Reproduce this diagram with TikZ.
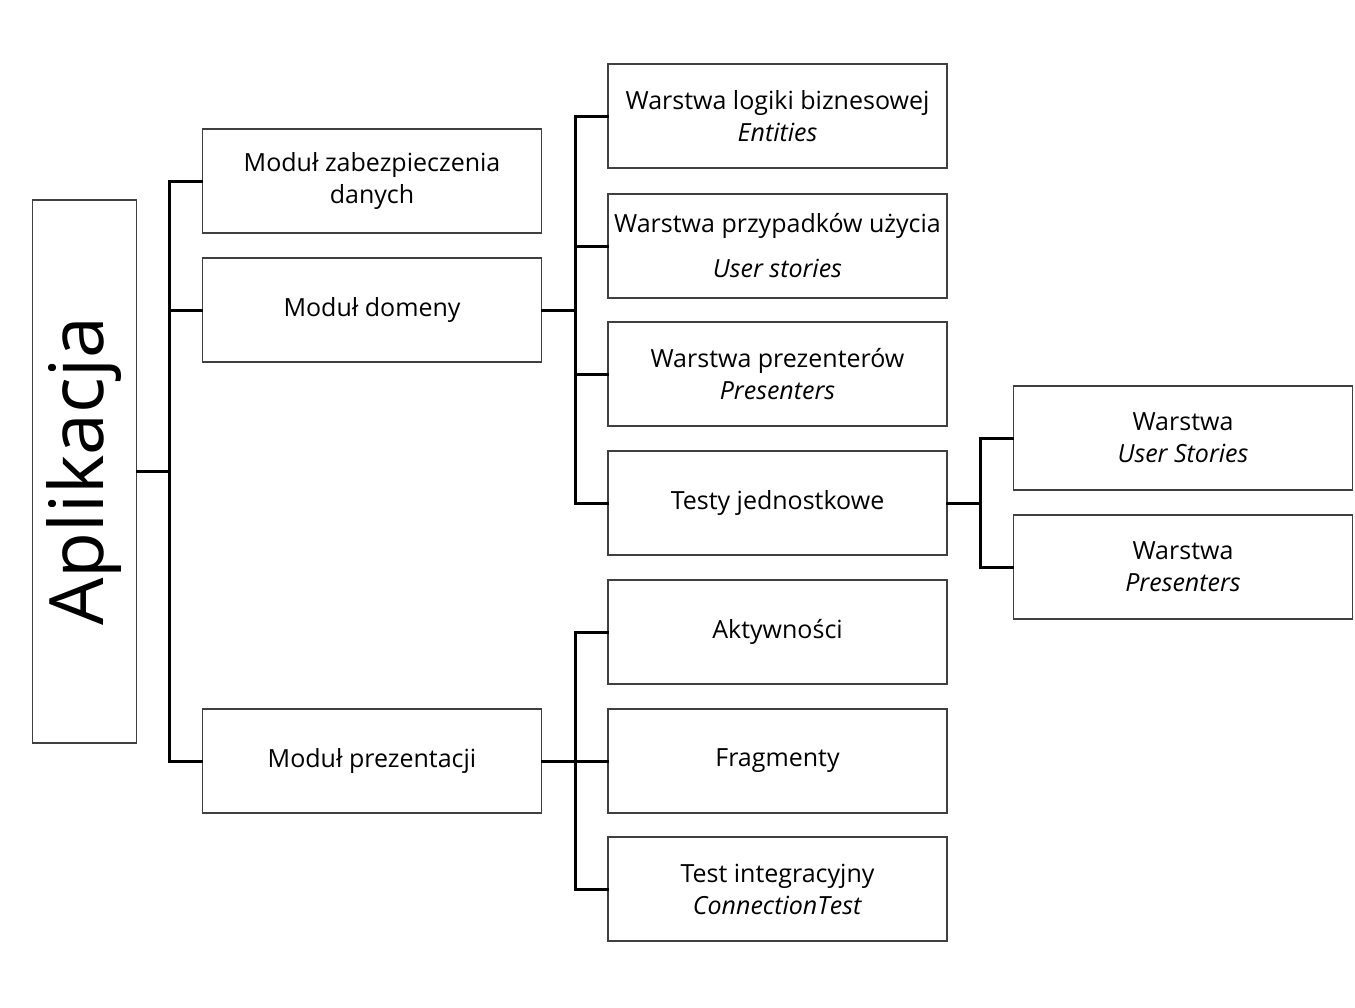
\documentclass[tikz,border=0pt]{standalone}
\usepackage{fontspec}
\setmainfont{Open Sans}
\begin{document}
\begin{tikzpicture}[x=1pt,y=-1pt,
  box/.style={draw=black!75, line width=1.8pt, minimum width=339pt, minimum height=104pt, inner sep=0pt, align=center, font=\fontsize{25}{32}\selectfont},
  conn/.style={line width=3pt, black, line cap=rect}]
\useasboundingbox (0,0) rectangle (1355,1007);
\node[draw=black!75, line width=1.8pt, minimum width=104pt, minimum height=543pt, inner sep=0pt] (app) at (84.5,471.5) {};
\node[rotate=90, font=\fontsize{75}{80}\selectfont] at (84.5,471.5) {Aplikacja};
\node[box] (zab) at (372,181) {Moduł zabezpieczenia\\danych};
\node[box] (dom) at (372,310) {Moduł domeny};
\node[box] (pre) at (372,761) {Moduł prezentacji};
\node[box] (log) at (777.5,116) {Warstwa logiki biznesowej\\\textit{Entities}};
\node[box] (prz) at (777.5,246) {Warstwa przypadków użycia\\[13pt]\textit{User stories}};
\node[box] (prs) at (777.5,374) {Warstwa prezenterów\\\textit{Presenters}};
\node[box] (tes) at (777.5,503) {Testy jednostkowe};
\node[box] (akt) at (777.5,632) {Aktywności};
\node[box] (fra) at (777.5,761) {Fragmenty};
\node[box] (int) at (777.5,889) {Test integracyjny\\\textit{ConnectionTest}};
\node[box] (wus) at (1183,438) {Warstwa\\\textit{User Stories}};
\node[box] (wpr) at (1183,567) {Warstwa\\\textit{Presenters}};
% connectors
\coordinate (t1) at (169,0);
\coordinate (t2) at (575,0);
\coordinate (t3) at (980,0);
\draw[conn] (app.east) -- (app.east -| t1);
\draw[conn] (zab.west -| t1) -- (pre.west -| t1);
\foreach \n in {zab,dom,pre} \draw[conn] (\n.west -| t1) -- (\n.west);
\draw[conn] (dom.east) -- (dom.east -| t2);
\draw[conn] (log.west -| t2) -- (tes.west -| t2);
\foreach \n in {log,prz,prs,tes} \draw[conn] (\n.west -| t2) -- (\n.west);
\draw[conn] (pre.east) -- (pre.east -| t2);
\draw[conn] (akt.west -| t2) -- (int.west -| t2);
\foreach \n in {akt,fra,int} \draw[conn] (\n.west -| t2) -- (\n.west);
\draw[conn] (tes.east) -- (tes.east -| t3);
\draw[conn] (wus.west -| t3) -- (wpr.west -| t3);
\foreach \n in {wus,wpr} \draw[conn] (\n.west -| t3) -- (\n.west);
\end{tikzpicture}
\end{document}
